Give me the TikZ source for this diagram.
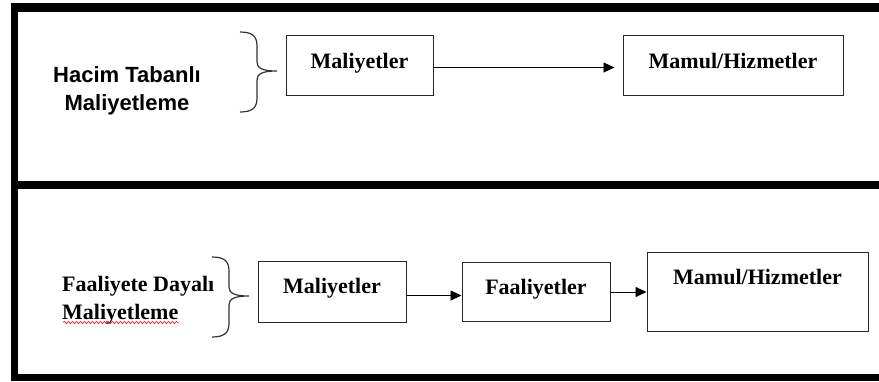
\documentclass[tikz,border=0pt]{standalone}
\usepackage{fontspec}
\setmainfont{Liberation Serif}
\setsansfont{Liberation Sans}
\usetikzlibrary{arrows.meta,decorations.pathmorphing}

\begin{document}
\begin{tikzpicture}[x=1pt,y=-1pt,
  frameline/.style={black,line cap=butt},
  stepbox/.style={draw=black!85,line width=1pt,inner xsep=0pt,inner ysep=0pt,
    anchor=north,font=\bfseries\fontsize{22}{28}\selectfont},
  flow/.style={-{Triangle[length=11pt,width=10pt]},line width=0.9pt,black},
  bracestroke/.style={line width=1.2pt,black!80},
  methodtxt/.style={inner sep=0pt,font=\bfseries\fontsize{22}{28}\selectfont},
  curlybrace/.pic={
    \draw[bracestroke] (0,0) .. controls (12,0) and (17,4) .. (17,14)
      -- (17,30) .. controls (17,36) and (22,39) .. (37,39)
      .. controls (22,39) and (17,42) .. (17,48)
      -- (17,66) .. controls (17,76) and (12,80) .. (0,80);
  }]
\useasboundingbox (0,0) rectangle (879,381);

% outer frame and divider
\draw[frameline,line width=7pt] (14,3) -- (14,381);
\draw[frameline,line width=9pt] (10.5,7.5) -- (879,7.5);
\draw[frameline,line width=8pt] (10.5,185) -- (879,185);
\draw[frameline,line width=7pt] (10.5,377.5) -- (879,377.5);

% volume-based costing
\node[methodtxt,font=\sffamily\bfseries\fontsize{22}{28}\selectfont,align=center,anchor=base]
  (hacim) at (127,110) {Hacim Tabanlı\\Maliyetleme};
\pic at (240,32) {curlybrace};
\node[stepbox,minimum width=147pt,text height=33pt,text depth=27pt] (m1) at (359.5,35) {Maliyetler};
\node[stepbox,minimum width=220pt,text height=33pt,text depth=27pt] (p1) at (733,35) {Mamul/Hizmetler};
\draw[flow,shorten >=8pt] ([yshift=-2pt]m1.east) -- ([yshift=-2pt]p1.west);

% activity-based costing
\node[methodtxt,align=left,anchor=base west] (faal) at (62,319) {Faaliyete Dayalı\\Maliyetleme};
\draw[red,line width=0.6pt,decorate,decoration={snake,amplitude=1.1pt,segment length=4pt}]
  (63,322.5) -- (178,322.5);
\pic at (212,257) {curlybrace};
\node[stepbox,minimum width=148pt,text height=32pt,text depth=29pt] (m2) at (332,261) {Maliyetler};
\node[stepbox,minimum width=148pt,text height=32pt,text depth=27pt] (f2) at (536,262) {Faaliyetler};
\node[stepbox,minimum width=221pt,text height=32pt,text depth=47pt] (p2) at (757.5,252) {Mamul/Hizmetler};
\draw[flow] ([yshift=-3.5pt]m2.east) -- ([yshift=-3.5pt]f2.west);
\draw[flow] (f2.east) -- (f2.east -| p2.west);
\end{tikzpicture}
\end{document}
